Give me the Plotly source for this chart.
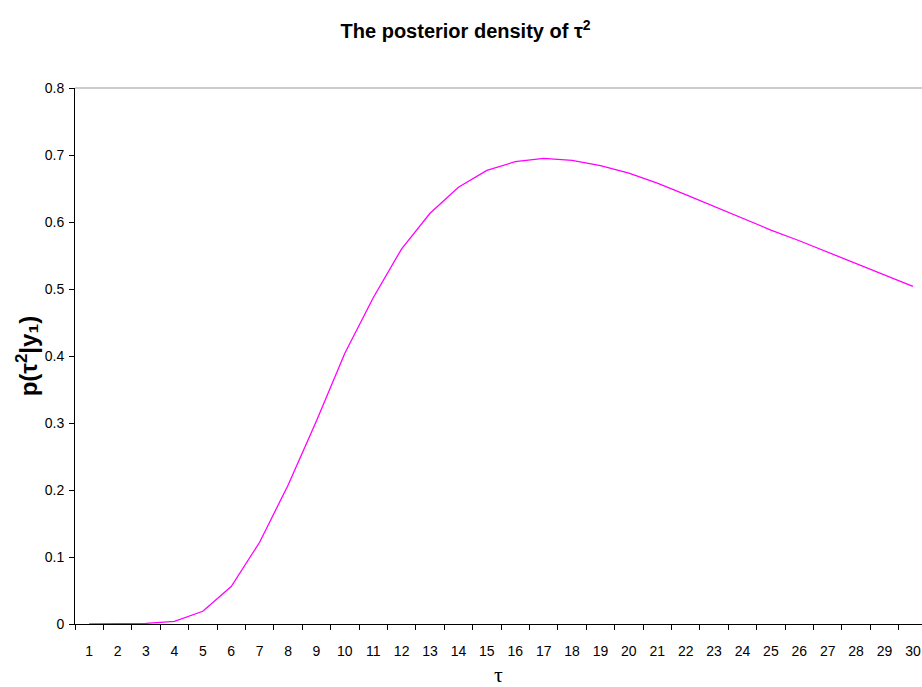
import plotly.graph_objects as go

tau = [str(i) for i in range(1, 31)]
density = [0.0, 0.0001, 0.001, 0.004, 0.019, 0.056, 0.122, 0.207, 0.303, 0.404,
           0.487, 0.560, 0.613, 0.652, 0.677, 0.690, 0.695, 0.692, 0.684, 0.673,
           0.658, 0.641, 0.623, 0.606, 0.588, 0.572, 0.555, 0.538, 0.521, 0.504]
y_ticks = [0, 0.1, 0.2, 0.3, 0.4, 0.5, 0.6, 0.7, 0.8]
y_ticklabels = ["0", "0.1", "0.2", "0.3", "0.4", "0.5", "0.6", "0.7", "0.8"]

fig = go.Figure()
fig.add_trace(go.Scatter(x=tau, y=density, mode="lines",
                         line=dict(color="#FF00FF", width=1.3), showlegend=False))

fig.update_layout(
    width=922, height=687,
    margin=dict(l=75, r=0, t=88, b=63),
    paper_bgcolor="white", plot_bgcolor="white",
    font=dict(family="Liberation Sans, Arial, sans-serif", color="black", size=14),
    title=dict(text="<b>The posterior density of τ<sup>2</sup></b>",
               x=0.505, xanchor="center", y=0.955, yanchor="middle",
               font=dict(size=20, family="Liberation Sans, Arial, sans-serif", color="black")),
    xaxis=dict(type="category", range=[-0.5, 29.32], tickson="boundaries",
               ticks="outside", ticklen=5, tickcolor="black", showline=True,
               linecolor="black", linewidth=1, showgrid=False, zeroline=False,
               tickfont=dict(size=14), ticklabelstandoff=14,
               title=dict(text="τ", font=dict(family="Liberation Serif, Times New Roman, serif", size=22),
                          standoff=10)),
    yaxis=dict(range=[0, 0.8], tickvals=y_ticks, ticktext=y_ticklabels,
               ticks="outside", ticklen=5, tickcolor="black", showline=True,
               linecolor="black", linewidth=1, showgrid=False, zeroline=False,
               tickfont=dict(size=14), ticklabelstandoff=2,
               title=dict(text="<b>p(τ<sup>2</sup>|y₁)</b>", font=dict(size=24), standoff=0)),
)
fig.add_shape(type="line", xref="paper", yref="paper", x0=0, x1=1, y0=1, y1=1,
              line=dict(color="#999999", width=1))

fig.write_html("out.html")
